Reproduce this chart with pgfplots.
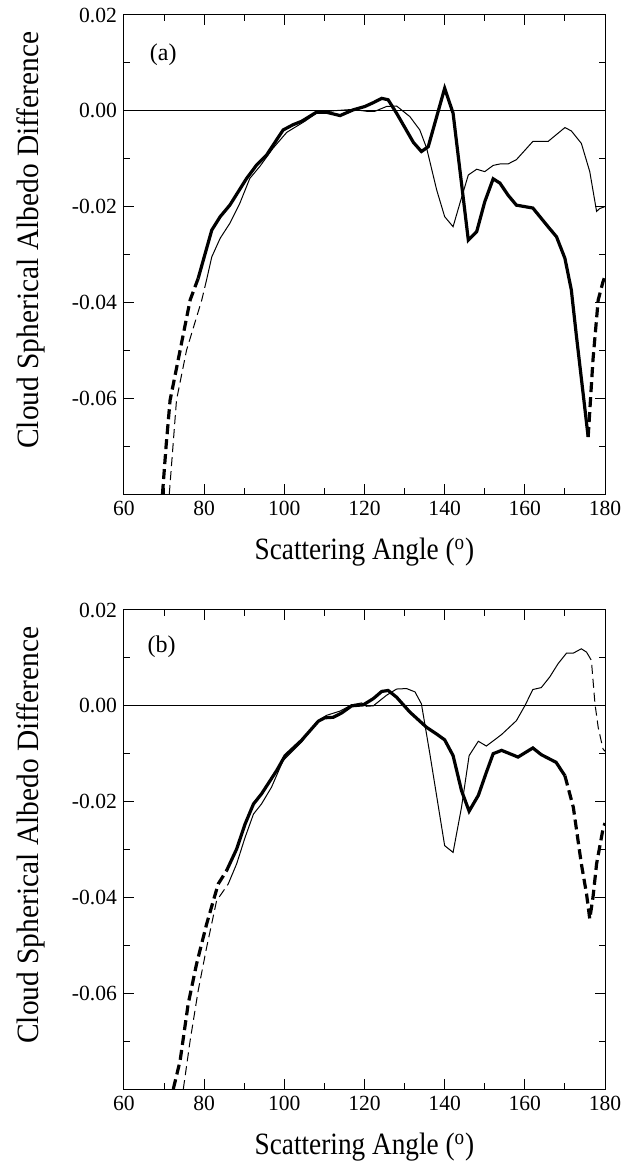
\documentclass[border=0pt]{standalone}
\usepackage{fontspec}
\setmainfont{Liberation Serif}
\newfontfamily\xlabfont[FakeStretch=0.88]{Liberation Serif}
\newfontfamily\ylabfont[FakeStretch=0.95]{Liberation Serif}
\usepackage{pgfplots}
\pgfplotsset{compat=1.18}

\pgfplotsset{myax/.style={
  scale only axis, width=240.5pt, height=239.5pt,
  xmin=60, xmax=180, ymin=-0.08, ymax=0.02,
  xtick={60,80,...,180}, minor xtick={70,90,...,170},
  ytick={-0.06,-0.04,-0.02,0,0.02},
  yticklabels={-0.06,-0.04,-0.02,0.00,0.02},
  scaled y ticks=false,
  minor ytick={-0.07,-0.05,-0.03,-0.01,0.01},
  tick align=inside, major tick length=5pt, minor tick length=3pt,
  every tick/.style={black, line width=0.5pt},
  axis line style={line width=0.5pt},
  /pgf/number format/assume math mode=true,
  ticklabel style={font=\fontsize{10.8}{12}\selectfont},
  xlabel={Scattering Angle (\textsuperscript{o})},
  ylabel={Cloud Spherical Albedo Difference},
  xlabel style={font=\xlabfont\fontsize{15.5}{17}\selectfont, at={(axis description cs:0.5,-0.122)}, anchor=center},
  ylabel style={font=\ylabfont\fontsize{15.5}{17}\selectfont, at={(axis description cs:-0.193,0.53)}, anchor=center},
  clip=true,
}}
\pgfplotsset{thk/.style={black, line width=1.6pt},
  thkd/.style={black, line width=1.6pt, dash pattern=on 5pt off 2.5pt},
  thn/.style={black, line width=0.5pt},
  thnd/.style={black, line width=0.5pt, dash pattern=on 4.5pt off 2.5pt}}

\begin{document}
\begin{tikzpicture}
% ---------------- (a) ----------------
\begin{axis}[myax, at={(0,0)}, anchor=south west]
\addplot[thn, forget plot] coordinates {(60,0) (180,0)};
% thick dashed left
\addplot[thkd] coordinates {(69.6,-0.08) (70.5,-0.07) (71.5,-0.0604) (74,-0.05) (76.5,-0.0395) (78.5,-0.035)};
% thick solid
\addplot[thk] coordinates {(78.5,-0.035) (81.9,-0.0249) (84,-0.0221) (86.4,-0.0197) (90.6,-0.0141) (93.1,-0.0113) (95.6,-0.0092) (99.7,-0.0040) (102.2,-0.0029) (104.3,-0.0022) (108,-0.0003) (110.5,-0.0003) (113.9,-0.001) (117.2,0.0002) (120.1,0.0009) (122.2,0.0017) (124.3,0.0026) (125.9,0.0023) (128,-0.0005) (132.2,-0.0066) (134.2,-0.0085) (135.9,-0.0075) (140,0.0047) (142.1,-0.0005) (145.9,-0.0270) (148,-0.0252) (150,-0.0190) (152.1,-0.0142) (153.8,-0.0151) (155.8,-0.0176) (157.9,-0.0197) (162,-0.0203) (165.8,-0.0242) (167.9,-0.0263) (170,-0.0308) (171.6,-0.0374) (172.8,-0.0465) (175.8,-0.0681)};
% thick dashed right
\addplot[thkd] coordinates {(175.8,-0.0681) (177,-0.052) (178.3,-0.0395) (179.5,-0.0357) (180,-0.0345)};
% thin dashed left
\addplot[thnd] coordinates {(71.3,-0.08) (73.1,-0.0604) (75.6,-0.05) (79.4,-0.0395) (80.6,-0.0353)};
% thin solid
\addplot[thn] coordinates {(80.6,-0.0353) (81.9,-0.0305) (84,-0.0266) (86.4,-0.0235) (88.9,-0.0193) (91.4,-0.0141) (93.9,-0.0116) (97.2,-0.0078) (100.6,-0.0045) (105.1,-0.0022) (108,-0.0005) (112.2,0.0) (117.2,0.0003) (120.5,-0.0001) (122.6,-0.0001) (125.5,0.0009) (128,0.001) (131.3,-0.0012) (133.8,-0.004) (135.5,-0.0078) (138,-0.0165) (140,-0.0221) (142.1,-0.0242) (143.8,-0.0193) (145.9,-0.0134) (148,-0.0122) (150,-0.0127) (152.1,-0.0114) (153.8,-0.0111) (155.8,-0.0111) (157.9,-0.0102) (162,-0.0064) (165.8,-0.0064) (170,-0.0035) (171.6,-0.0042) (174.1,-0.0068) (176.2,-0.0127) (177.9,-0.021) (178.7,-0.0204) (180,-0.02)};
\node[font=\fontsize{12}{13}\selectfont] at (axis cs:69.8,0.0117) {(a)};
\end{axis}
% ---------------- (b) ----------------
\begin{axis}[myax, at={(0,-297.5pt)}, anchor=south west]
\addplot[thn, forget plot] coordinates {(60,0) (180,0)};
% thick dashed left
\addplot[thkd] coordinates {(72.3,-0.08) (74,-0.0741) (76,-0.0623) (78.1,-0.0539) (80.6,-0.0456) (83.5,-0.0372) (85.6,-0.0344)};
% thick solid
\addplot[thk] coordinates {(85.6,-0.0344) (88.1,-0.0299) (90.2,-0.0247) (92.3,-0.0205) (94.3,-0.0184) (98.1,-0.0135) (100.2,-0.0104) (104.3,-0.0072) (108.5,-0.0032) (110.1,-0.0025) (112.2,-0.0024) (114.3,-0.0015) (116.8,0.0) (119.7,0.0002) (122.2,0.0015) (124.3,0.003) (125.9,0.0032) (128,0.0018) (131.3,-0.0013) (135.5,-0.0045) (138,-0.0059) (140,-0.0071) (142.1,-0.0104) (144.2,-0.0177) (146.1,-0.022) (148.4,-0.0187) (150.4,-0.0139) (152.1,-0.01) (154.2,-0.0093) (158.3,-0.0107) (162,-0.0088) (164.1,-0.0102) (167.8,-0.0118) (170,-0.0146)};
% thick dashed right
\addplot[thkd] coordinates {(170,-0.0146) (172.1,-0.0212) (174.1,-0.033) (175.4,-0.0393) (176.2,-0.0445) (177,-0.040) (177.9,-0.033) (179.5,-0.0257) (180,-0.0245)};
% thin dashed left
\addplot[thnd] coordinates {(74.8,-0.08) (76.5,-0.0699) (78.5,-0.0595) (80.6,-0.0505) (83.1,-0.0407) (86,-0.0372)};
% thin solid
\addplot[thn] coordinates {(86,-0.0372) (88.1,-0.033) (90.2,-0.0275) (92.3,-0.0226) (94.3,-0.0205) (96.8,-0.017) (99.7,-0.0114) (104.3,-0.0076) (108,-0.0034) (110.5,-0.002) (113.9,-0.0011) (116.8,0.0002) (119.3,0.0006) (120.5,-0.0001) (122.2,0.0) (125.5,0.0022) (128,0.0035) (130.5,0.0036) (132.6,0.0029) (134.2,0.0004) (136.3,-0.01) (140,-0.0292) (142.1,-0.0306) (144.2,-0.0212) (146.1,-0.0104) (148.4,-0.0074) (150.4,-0.0084) (154.2,-0.006) (157.9,-0.0031) (160,0.0) (162,0.0034) (164.1,0.0038) (166.2,0.006) (168.3,0.0088) (170.4,0.011) (172.1,0.011) (174.1,0.0119) (175.4,0.0112)};
% thin dashed right
\addplot[thnd] coordinates {(175.4,0.0112) (176.6,0.0095) (177.5,0.0004) (178.3,-0.0045) (179.5,-0.009) (180,-0.0095)};
\node[font=\fontsize{12}{13}\selectfont] at (axis cs:69.4,0.0123) {(b)};
\end{axis}
\pgfresetboundingbox
\path[use as bounding box] (-62pt,-334pt) rectangle (252.5pt,247pt);
\end{tikzpicture}
\end{document}
